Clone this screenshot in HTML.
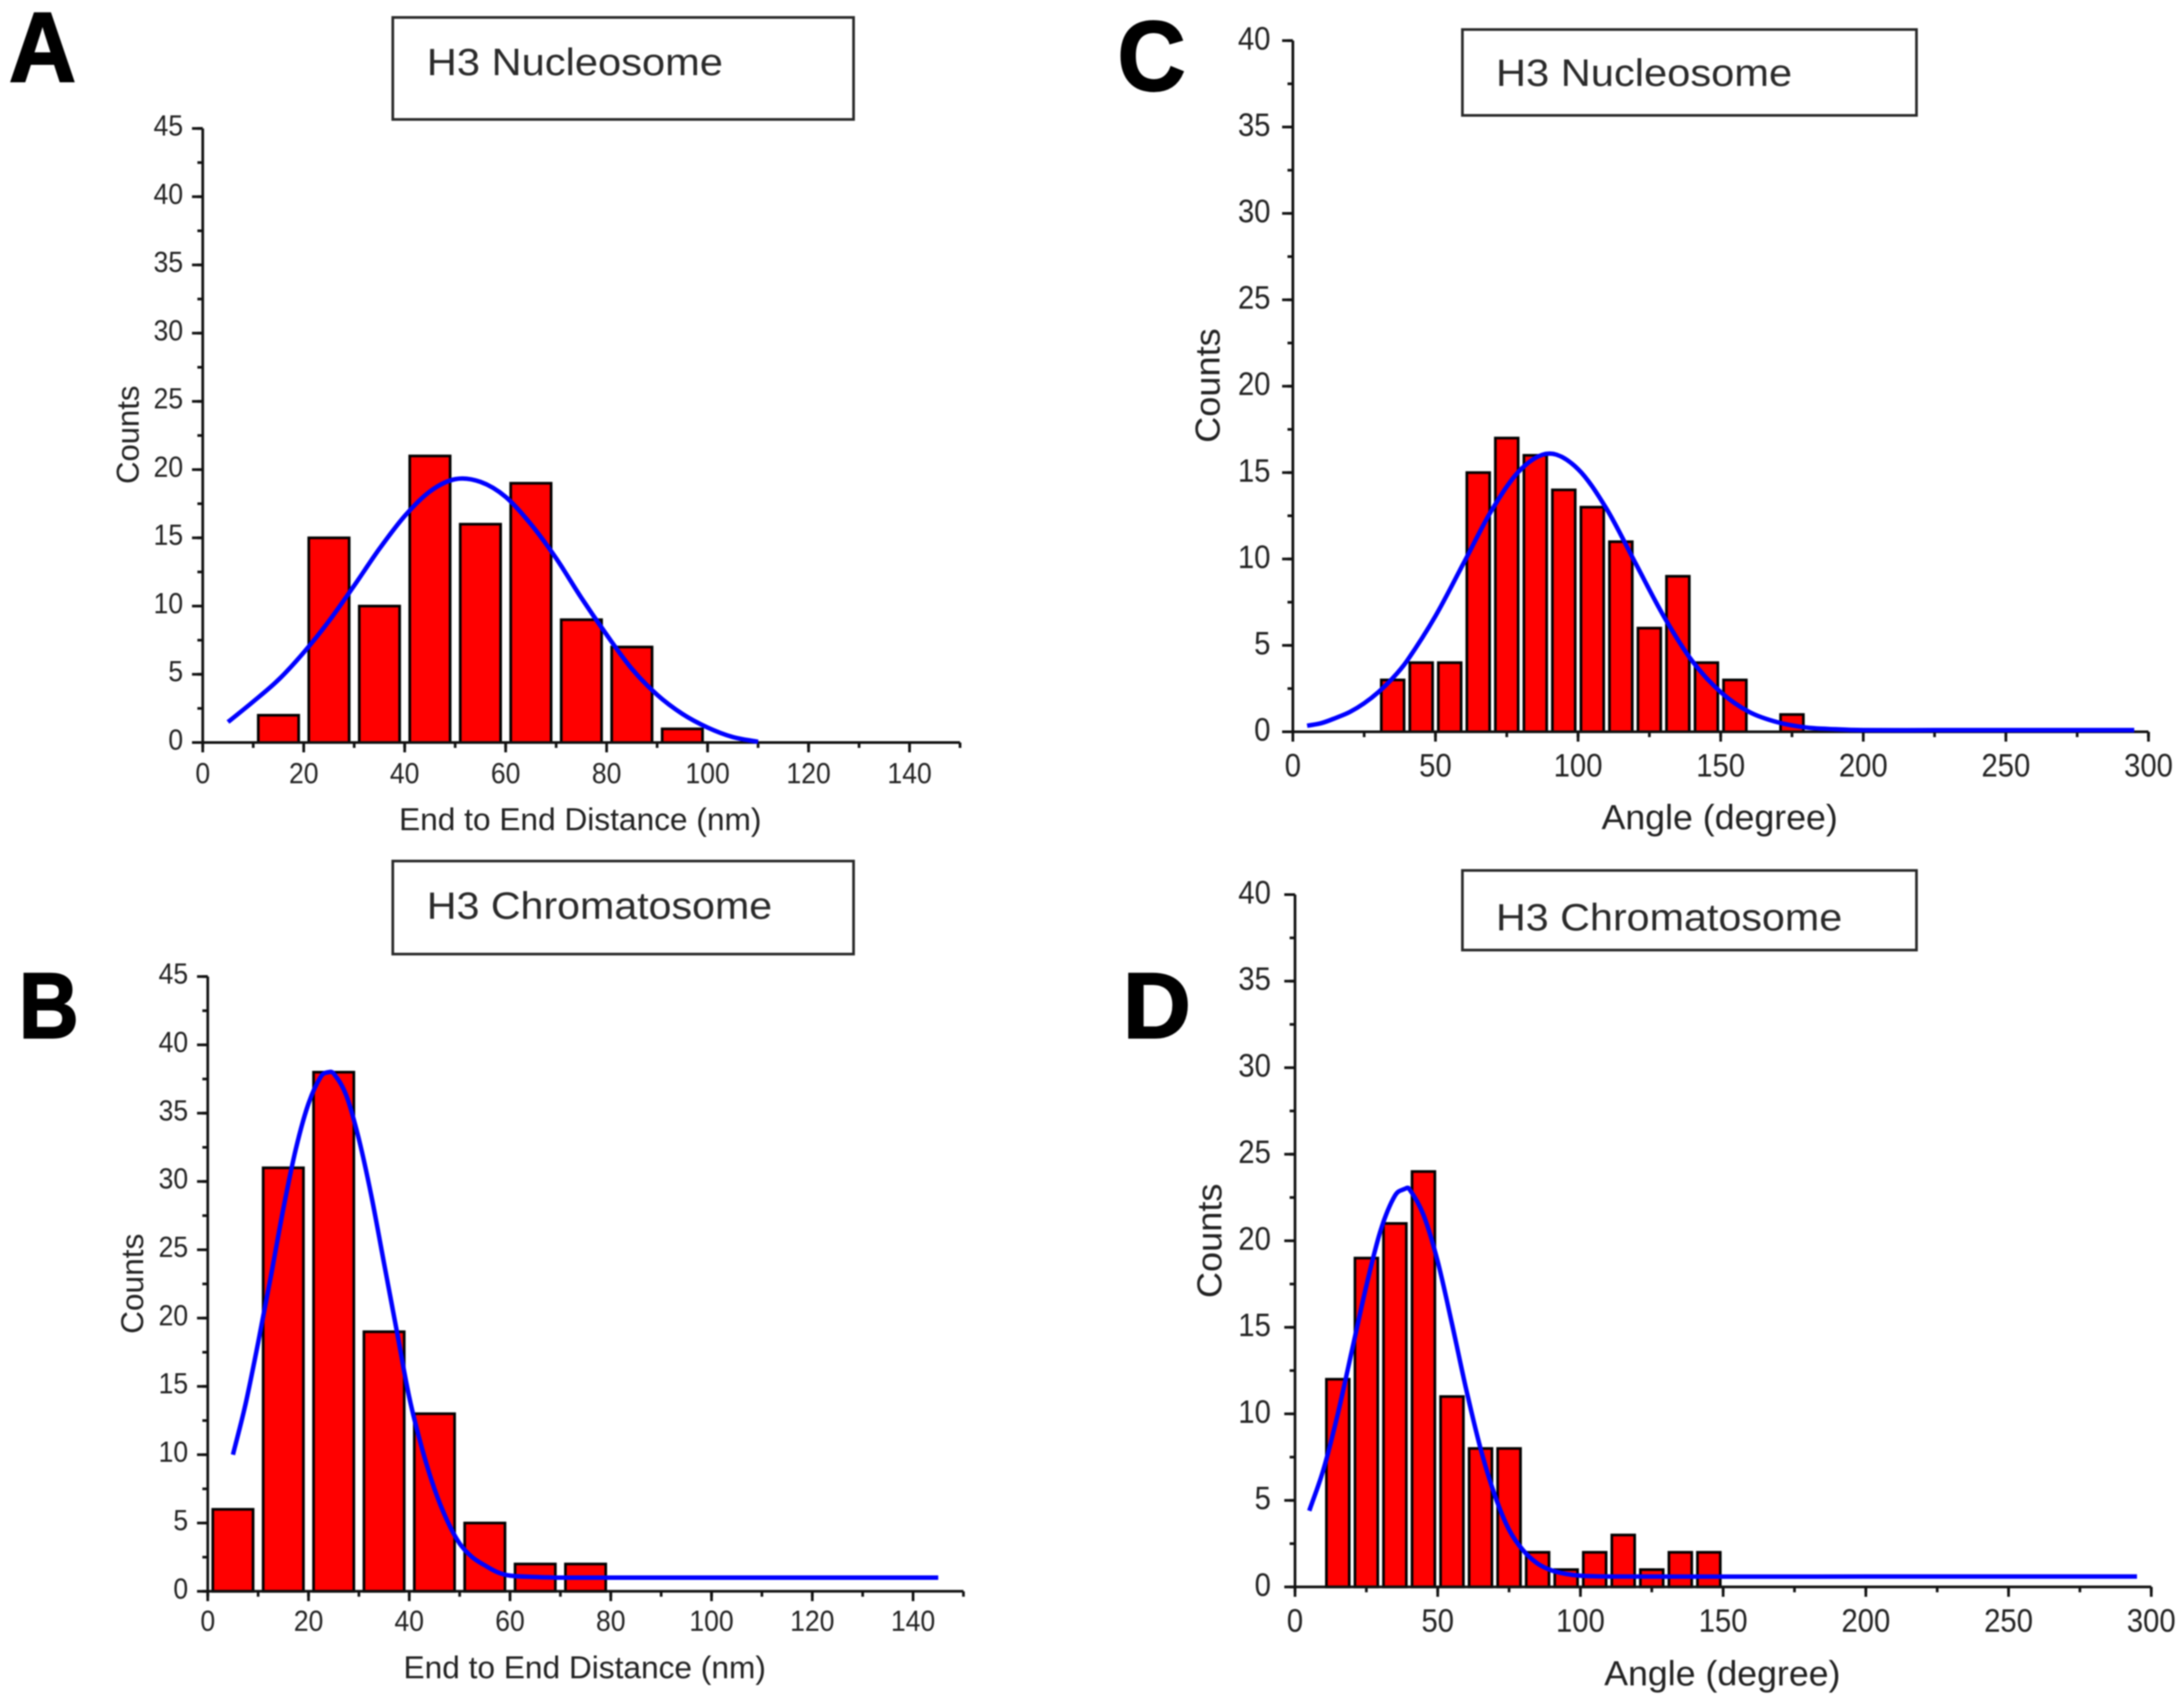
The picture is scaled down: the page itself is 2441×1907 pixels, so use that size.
<!DOCTYPE html>
<html lang="en">
<head>
<meta charset="utf-8">
<title>H3 Nucleosome and Chromatosome histograms</title>
<style>
  html, body { margin: 0; padding: 0; background: #fff; }
  #figure { display: block; width: 2441px; height: 1907px; filter: blur(0.8px); font-family: "Liberation Sans", Arial, sans-serif; }
  .title { font-size: 43px; fill: #2a2a2a; }
  .axis-title { fill: #222; }
  .letter { font-size: 110px; font-weight: bold; fill: #000; stroke: #000; stroke-width: 2px; }
  .box { fill: #fff; stroke: #2a2a2a; stroke-width: 3px; }
</style>
</head>
<body>
<svg id="figure" xmlns="http://www.w3.org/2000/svg" width="2441" height="1907" viewBox="0 0 2441 1907">
  <rect x="0" y="0" width="2441" height="1907" fill="#fff"/>

  <g id="panel-a">
    <text class="letter" x="10" y="91" textLength="75" lengthAdjust="spacingAndGlyphs">A</text>
    <rect class="box" x="439" y="19.5" width="515" height="114"/>
    <text class="title" x="477" y="84" textLength="331" lengthAdjust="spacingAndGlyphs">H3 Nucleosome</text>
    <text class="axis-title" x="446" y="928" font-size="35" textLength="405" lengthAdjust="spacingAndGlyphs">End to End Distance (nm)</text>
    <text class="axis-title" transform="translate(155 541) rotate(-90)" font-size="35" textLength="110" lengthAdjust="spacingAndGlyphs">Counts</text>
  </g>

  <g id="panel-b">
    <text class="letter" style="font-size:104px" x="21" y="1160" textLength="67" lengthAdjust="spacingAndGlyphs">B</text>
    <rect class="box" x="439" y="962.5" width="515" height="104"/>
    <text class="title" x="477" y="1027" textLength="386" lengthAdjust="spacingAndGlyphs">H3 Chromatosome</text>
    <text class="axis-title" x="451" y="1876" font-size="35" textLength="405" lengthAdjust="spacingAndGlyphs">End to End Distance (nm)</text>
    <text class="axis-title" transform="translate(160 1491) rotate(-90)" font-size="35" textLength="112" lengthAdjust="spacingAndGlyphs">Counts</text>
  </g>

  <g id="panel-c">
    <text class="letter" x="1249" y="101" textLength="76" lengthAdjust="spacingAndGlyphs">C</text>
    <rect class="box" x="1634.5" y="33" width="507.5" height="96"/>
    <text class="title" x="1672" y="96" textLength="331" lengthAdjust="spacingAndGlyphs">H3 Nucleosome</text>
    <text class="axis-title" x="1790" y="927" font-size="39" textLength="264" lengthAdjust="spacingAndGlyphs">Angle (degree)</text>
    <text class="axis-title" transform="translate(1363 495) rotate(-90)" font-size="39" textLength="128" lengthAdjust="spacingAndGlyphs">Counts</text>
  </g>

  <g id="panel-d">
    <text class="letter" style="font-size:104px" x="1255" y="1160" textLength="76" lengthAdjust="spacingAndGlyphs">D</text>
    <rect class="box" x="1634.5" y="973" width="507.5" height="89"/>
    <text class="title" x="1672" y="1040" textLength="387" lengthAdjust="spacingAndGlyphs">H3 Chromatosome</text>
    <text class="axis-title" x="1793" y="1884" font-size="39" textLength="264" lengthAdjust="spacingAndGlyphs">Angle (degree)</text>
    <text class="axis-title" transform="translate(1365 1451) rotate(-90)" font-size="39" textLength="128" lengthAdjust="spacingAndGlyphs">Counts</text>
  </g>
</svg>

<script>
// ---------- Panel A data ----------
const binsA = [15, 25, 35, 45, 55, 65, 75, 85, 95];
const countsA = [2, 15, 10, 21, 16, 19, 9, 7, 1];
const fitXA = [5, 10, 15, 20, 25, 30, 35, 40, 45, 50, 55, 60, 65, 70, 75, 80, 85, 90, 95, 100, 105, 110];
const fitYA = [1.5, 3.0, 4.6, 6.6, 8.9, 11.5, 14.2, 16.6, 18.4, 19.3, 19.1, 18.0, 16.0, 13.5, 10.6, 7.9, 5.4, 3.5, 2.1, 1.1, 0.4, 0.05];
const xTicksA = [0, 20, 40, 60, 80, 100, 120, 140];
const yTicksA = [0, 5, 10, 15, 20, 25, 30, 35, 40, 45];

// ---------- Panel B data ----------
const binsB = [5, 15, 25, 35, 45, 55, 65, 75];
const countsB = [6, 31, 38, 19, 13, 5, 2, 2];
const fitXB = [5, 7.5, 10, 12.5, 15, 17.5, 20, 22.5, 24, 25, 27.5, 30, 32.5, 35, 37.5, 40, 42.5, 45, 47.5, 50, 52.5, 55, 57.5, 60, 65, 70, 100, 145];
const fitYB = [10, 13.7, 18.2, 23, 28, 32.4, 35.7, 37.7, 38, 37.9, 36.3, 33.1, 28.9, 24, 19.1, 14.2, 10.5, 7.5, 5.2, 3.5, 2.5, 1.9, 1.4, 1.15, 1.05, 1, 1, 1];
const xTicksB = [0, 20, 40, 60, 80, 100, 120, 140];
const yTicksB = [0, 5, 10, 15, 20, 25, 30, 35, 40, 45];

// ---------- Panel C data ----------
const binsC = [35, 45, 55, 65, 75, 85, 95, 105, 115, 125, 135, 145, 155, 165, 175];
const countsC = [3, 4, 4, 15, 17, 16, 14, 13, 11, 6, 9, 4, 3, 0, 1];
const fitXC = [5, 10, 15, 20, 25, 30, 35, 40, 50, 60, 70, 80, 90, 100, 110, 120, 130, 140, 150, 160, 170, 180, 190, 200, 250, 295];
const fitYC = [0.35, 0.5, 0.8, 1.15, 1.65, 2.3, 3.1, 4.1, 6.7, 9.8, 12.9, 15.2, 16.1, 15.2, 12.9, 9.8, 6.7, 4.1, 2.3, 1.15, 0.55, 0.25, 0.15, 0.1, 0.1, 0.1];
const xTicksC = [0, 50, 100, 150, 200, 250, 300];
const yTicksC = [0, 5, 10, 15, 20, 25, 30, 35, 40];

// ---------- Panel D data ----------
const binsD = [15, 25, 35, 45, 55, 65, 75, 85, 95, 105, 115, 125, 135, 145];
const countsD = [12, 19, 21, 24, 11, 8, 8, 2, 1, 2, 3, 1, 2, 2];
const fitXD = [5, 10, 15, 20, 25, 30, 35, 38.5, 40, 45, 50, 55, 60, 65, 70, 75, 80, 85, 90, 95, 100, 110, 200, 295];
const fitYD = [4.4, 6.8, 10, 13.7, 17.4, 20.6, 22.6, 23, 23, 21.5, 18.8, 15.2, 11.4, 8, 5.3, 3.3, 2.1, 1.35, 0.95, 0.75, 0.65, 0.6, 0.6, 0.6];
const xTicksD = [0, 50, 100, 150, 200, 250, 300];
const yTicksD = [0, 5, 10, 15, 20, 25, 30, 35, 40];

// ---------- Panel layouts (pixel frame of each plot) ----------
const layoutA = { id: 'a', x0: 226.6, x1: 1073, xMax: 150, y0: 830, y1: 143.6, yMax: 45, fontSize: 32, charW: 16.5, yGap: 22, yBase: 8, xBase: 45.6, binW: 8, minorX: 10, minorY: 2.5 };
const layoutB = { id: 'b', x0: 232.2, x1: 1076.8, xMax: 150, y0: 1778.8, y1: 1091.6, yMax: 45, fontSize: 32, charW: 16.5, yGap: 22, yBase: 8, xBase: 44, binW: 8, minorX: 10, minorY: 2.5 };
const layoutC = { id: 'c', x0: 1445, x1: 2401.3, xMax: 300, y0: 818, y1: 45.4, yMax: 40, fontSize: 36, charW: 18.2, yGap: 25, yBase: 10, xBase: 50, binW: 8, minorX: 25, minorY: 2.5 };
const layoutD = { id: 'd', x0: 1447.4, x1: 2404.4, xMax: 300, y0: 1773.9, y1: 1000, yMax: 40, fontSize: 36, charW: 18.2, yGap: 27, yBase: 10, xBase: 50, binW: 8, minorX: 25, minorY: 2.5 };

const SVGNS = 'http://www.w3.org/2000/svg';

function make(tag, attrs, parent) {
  const el = document.createElementNS(SVGNS, tag);
  Object.keys(attrs).forEach(function (k) { el.setAttribute(k, attrs[k]); });
  parent.appendChild(el);
  return el;
}

function smoothPath(px, py) {
  let d = 'M' + px[0].toFixed(2) + ' ' + py[0].toFixed(2);
  for (let i = 0; i < px.length - 1; i++) {
    const a = Math.max(i - 1, 0), b = i + 1, c = Math.min(i + 2, px.length - 1);
    const seg = px[b] - px[i];
    const m1 = (py[b] - py[a]) / ((px[b] - px[a]) || 1);
    const m2 = (py[c] - py[i]) / ((px[c] - px[i]) || 1);
    d += ' C' + (px[i] + seg / 3).toFixed(2) + ' ' + (py[i] + m1 * seg / 3).toFixed(2) +
         ' ' + (px[b] - seg / 3).toFixed(2) + ' ' + (py[b] - m2 * seg / 3).toFixed(2) +
         ' ' + px[b].toFixed(2) + ' ' + py[b].toFixed(2);
  }
  return d;
}

function drawPanel(L, bins, counts, fitX, fitY, xTicks, yTicks) {
  const root = document.getElementById('panel-' + L.id);
  const sx = function (v) { return L.x0 + (L.x1 - L.x0) * v / L.xMax; };
  const sy = function (v) { return L.y0 - (L.y0 - L.y1) * v / L.yMax; };

  // bars
  const barGroup = make('g', {}, root);
  
  
  bins.forEach(function (b, i) {
    if (!counts[i]) return;
    const left = sx(b - L.binW / 2);
    const right = sx(b + L.binW / 2);
    const bar = make('rect', { x: left, y: sy(counts[i]), width: right - left, height: sy(0) - sy(counts[i]), fill: '#ff0000', stroke: '#000', 'stroke-width': 3 }, barGroup);
    
    
  });

  // axes
  const axes = make('g', { stroke: '#111', 'stroke-width': 3, fill: 'none' }, root);
  
  
  const xAxis = make('line', { x1: L.x0, x2: L.x1, y1: L.y0, y2: L.y0 }, axes);
  
  
  const yAxis = make('line', { x1: L.x0, x2: L.x0, y1: L.y0, y2: L.y1 }, axes);
  
  

  // minor ticks
  for (let v = 0; v <= L.xMax + 1e-6; v += L.minorX) {
    make('line', { x1: sx(v), x2: sx(v), y1: L.y0, y2: L.y0 + 6 }, axes);
  }
  for (let v = 0; v <= L.yMax + 1e-6; v += L.minorY) {
    make('line', { x1: L.x0, x2: L.x0 - 6, y1: sy(v), y2: sy(v) }, axes);
  }

  // major ticks and labels
  xTicks.forEach(function (t) {
    make('line', { x1: sx(t), x2: sx(t), y1: L.y0, y2: L.y0 + 11 }, axes);
    const lab = make('text', { x: sx(t), y: L.y0 + L.xBase, 'text-anchor': 'middle', 'font-size': L.fontSize, fill: '#222', textLength: String(t).length * L.charW, lengthAdjust: 'spacingAndGlyphs' }, root);
    lab.textContent = t;
    
    
  });
  yTicks.forEach(function (t) {
    make('line', { x1: L.x0, x2: L.x0 - 12, y1: sy(t), y2: sy(t) }, axes);
    const lab = make('text', { x: L.x0 - L.yGap, y: sy(t) + L.yBase, 'text-anchor': 'end', 'font-size': L.fontSize, fill: '#222', textLength: String(t).length * L.charW, lengthAdjust: 'spacingAndGlyphs' }, root);
    lab.textContent = t;
    
    
  });

  // fit curve
  const curve = make('path', { d: smoothPath(fitX.map(sx), fitY.map(sy)), fill: 'none', stroke: '#0000ff', 'stroke-width': 5 }, root);
  
  
}

drawPanel(layoutA, binsA, countsA, fitXA, fitYA, xTicksA, yTicksA);
drawPanel(layoutB, binsB, countsB, fitXB, fitYB, xTicksB, yTicksB);
drawPanel(layoutC, binsC, countsC, fitXC, fitYC, xTicksC, yTicksC);
drawPanel(layoutD, binsD, countsD, fitXD, fitYD, xTicksD, yTicksD);
</script>
</body>
</html>
